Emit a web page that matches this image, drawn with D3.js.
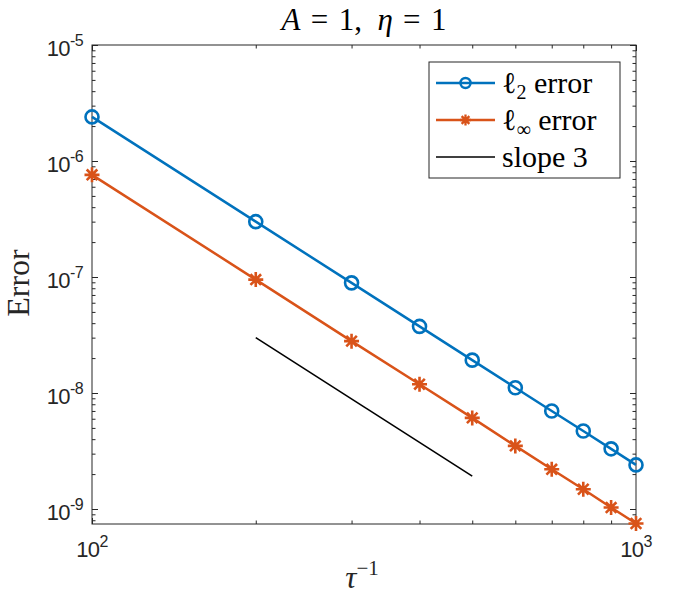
<html>
  <head>
    <script src="https://d3js.org/d3.v7.min.js"></script>
    <style>
      body { margin: 0; background: #fff; }
      text { white-space: pre; }
    </style>
  </head>

  <body>
    <div id="vis"></div>
  </body>

  <script>
    // data
    var tauInv = [100, 200, 300, 400, 500, 600, 700, 800, 900, 1000]
    var l2Err = [2.4e-6, 3.0e-7, 8.9e-8, 3.75e-8, 1.92e-8, 1.11e-8, 7.0e-9, 4.7e-9, 3.3e-9, 2.4e-9]
    var lInfErr = [7.6e-7, 9.5e-8, 2.8e-8, 1.19e-8, 6.1e-9, 3.5e-9, 2.2e-9, 1.48e-9, 1.03e-9, 7.5e-10]
    var slopeX = [200, 500]
    var slopeY = [3.0e-8, 1.92e-9]

    // tick labels (decades)
    var xMajor = [100, 1000]
    var yMajor = [1e-9, 1e-8, 1e-7, 1e-6, 1e-5]

    var blue = "#0072BD"
    var orange = "#D95319"
    var axisColor = "#262626"

    // plot box (window.top is read-only, so use other names)
    var boxL = 92, boxR = 636, boxT = 45, boxB = 524

    var svg = d3.select("#vis")
      .append("svg")
      .attr("width", 700)
      .attr("height", 600)

    var x = d3.scaleLog().domain([100, 1000]).range([boxL, boxR])
    var y = d3.scaleLog().domain([Math.pow(10, -5 - (boxB - boxT) / 116), 1e-5]).range([boxB, boxT])

    function isDecade(v) {
      var e = Math.log10(v)
      return Math.abs(e - Math.round(e)) < 1e-6
    }

    var xMinor = x.ticks().filter(function(v) { return !isDecade(v) })
    var yMinor = y.ticks().filter(function(v) { return !isDecade(v) })

    // axes: ticks point inward on all four sides
    function drawAxis(axis, tx, ty, values, size) {
      var g = svg.append("g")
        .attr("transform", "translate(" + tx + "," + ty + ")")
        .call(axis.tickValues(values).tickSize(-size).tickSizeOuter(0).tickFormat(""))
      g.select(".domain").remove()
      g.selectAll("line").attr("stroke", axisColor).attr("stroke-width", 1)
    }

    drawAxis(d3.axisBottom(x), 0, boxB, xMajor, 6)
    drawAxis(d3.axisBottom(x), 0, boxB, xMinor, 3.5)
    drawAxis(d3.axisTop(x), 0, boxT, xMajor, 6)
    drawAxis(d3.axisTop(x), 0, boxT, xMinor, 3.5)
    drawAxis(d3.axisLeft(y), boxL, 0, yMajor, 6)
    drawAxis(d3.axisLeft(y), boxL, 0, yMinor, 3.5)
    drawAxis(d3.axisRight(y), boxR, 0, yMajor, 6)
    drawAxis(d3.axisRight(y), boxR, 0, yMinor, 3.5)

    svg.append("rect")
      .attr("x", boxL)
      .attr("y", boxT)
      .attr("width", boxR - boxL)
      .attr("height", boxB - boxT)
      .attr("fill", "none")
      .attr("stroke", axisColor)
      .attr("stroke-width", 1)

    // tick labels 10^n
    var tickFont = "Liberation Sans, Arial, Helvetica, sans-serif"

    svg.selectAll(".xlab")
      .data(xMajor)
      .enter()
      .append("text")
      .attr("x", function(d) { return x(d) })
      .attr("y", boxB + 33)
      .attr("text-anchor", "middle")
      .attr("font-family", tickFont)
      .attr("font-size", 22)
      .attr("letter-spacing", -0.6)
      .attr("fill", axisColor)
      .each(function(d) {
        var t = d3.select(this)
        t.append("tspan").text("10")
        t.append("tspan").attr("font-size", 16).attr("dy", -10).text(Math.round(Math.log10(d)))
      })

    svg.selectAll(".ylab")
      .data(yMajor)
      .enter()
      .append("text")
      .attr("x", boxL - 9)
      .attr("y", function(d) { return y(d) + 11 })
      .attr("text-anchor", "end")
      .attr("font-family", tickFont)
      .attr("font-size", 22)
      .attr("letter-spacing", -0.6)
      .attr("fill", axisColor)
      .each(function(d) {
        var t = d3.select(this)
        t.append("tspan").text("10")
        t.append("tspan").attr("font-size", 16).attr("dy", -10).text(Math.round(Math.log10(d)))
      })

    // lines
    var line = d3.line()
      .x(function(d) { return x(d[0]) })
      .y(function(d) { return y(d[1]) })

    var l2Data = tauInv.map(function(t, i) { return [t, l2Err[i]] })
    var lInfData = tauInv.map(function(t, i) { return [t, lInfErr[i]] })
    var slopeData = slopeX.map(function(t, i) { return [t, slopeY[i]] })

    svg.append("path")
      .datum(l2Data)
      .attr("d", line)
      .attr("fill", "none")
      .attr("stroke", blue)
      .attr("stroke-width", 2.5)

    svg.append("path")
      .datum(lInfData)
      .attr("d", line)
      .attr("fill", "none")
      .attr("stroke", orange)
      .attr("stroke-width", 2.5)

    svg.append("path")
      .datum(slopeData)
      .attr("d", line)
      .attr("fill", "none")
      .attr("stroke", "black")
      .attr("stroke-width", 1.6)

    // markers
    function starPath(r) {
      var d = r * Math.SQRT1_2
      return "M" + (-r) + ",0L" + r + ",0M0," + (-r) + "L0," + r +
        "M" + (-d) + "," + (-d) + "L" + d + "," + d +
        "M" + (-d) + "," + d + "L" + d + "," + (-d)
    }

    svg.selectAll(".circ")
      .data(l2Data)
      .enter()
      .append("circle")
      .attr("cx", function(d) { return x(d[0]) })
      .attr("cy", function(d) { return y(d[1]) })
      .attr("r", 6.5)
      .attr("fill", "none")
      .attr("stroke", blue)
      .attr("stroke-width", 2.6)

    svg.selectAll(".star")
      .data(lInfData)
      .enter()
      .append("path")
      .attr("transform", function(d) { return "translate(" + x(d[0]) + "," + y(d[1]) + ")" })
      .attr("d", starPath(7.5))
      .attr("fill", "none")
      .attr("stroke", orange)
      .attr("stroke-width", 2.6)

    // title and axis labels
    var serif = "Liberation Serif, Times New Roman, DejaVu Serif, serif"

    var title = svg.append("text")
      .attr("x", (boxL + boxR) / 2)
      .attr("y", 30)
      .attr("text-anchor", "middle")
      .attr("font-family", serif)
      .attr("font-size", 31)
      .attr("fill", "black")
    title.append("tspan").attr("font-style", "italic").text("A")
    title.append("tspan").text("\u2004=\u20041,\u2002")
    title.append("tspan").attr("font-style", "italic").text("η")
    title.append("tspan").text("\u2004=\u20041")

    var xlabel = svg.append("text")
      .attr("x", 362)
      .attr("y", 588)
      .attr("text-anchor", "middle")
      .attr("font-family", serif)
      .attr("font-size", 31)
      .attr("fill", axisColor)
    xlabel.append("tspan").attr("font-style", "italic").text("τ")
    xlabel.append("tspan").attr("font-size", 21).attr("dy", -13).text("−1")

    svg.append("text")
      .attr("transform", "translate(29," + 283 + ") rotate(-90)")
      .attr("text-anchor", "middle")
      .attr("font-family", serif)
      .attr("font-size", 32)
      .attr("fill", axisColor)
      .text("Error")

    // legend
    var legend = svg.append("g")
    legend.append("rect")
      .attr("x", 429)
      .attr("y", 62)
      .attr("width", 191)
      .attr("height", 116)
      .attr("fill", "white")
      .attr("stroke", axisColor)
      .attr("stroke-width", 1)

    var legendItems = [
      {color: blue, width: 2.5, marker: "circle", name: "ℓ", sub: "2", rest: " error"},
      {color: orange, width: 2.5, marker: "star", name: "ℓ", sub: "∞", rest: " error"},
      {color: "black", width: 1.6, marker: null, name: "slope 3", sub: null, rest: ""}
    ]

    legendItems.forEach(function(item, i) {
      var cy = 83 + i * 37
      legend.append("line")
        .attr("x1", 436)
        .attr("x2", 495)
        .attr("y1", cy)
        .attr("y2", cy)
        .attr("stroke", item.color)
        .attr("stroke-width", item.width)
      if (item.marker == "circle") {
        legend.append("circle")
          .attr("cx", 465.5)
          .attr("cy", cy)
          .attr("r", 5)
          .attr("fill", "none")
          .attr("stroke", item.color)
          .attr("stroke-width", 2.5)
      } else if (item.marker == "star") {
        legend.append("path")
          .attr("transform", "translate(465.5," + cy + ")")
          .attr("d", starPath(5.5))
          .attr("fill", "none")
          .attr("stroke", item.color)
          .attr("stroke-width", 2.3)
      }
      var t = legend.append("text")
        .attr("x", 502)
        .attr("y", cy + 10)
        .attr("font-family", serif)
        .attr("font-size", 30)
        .attr("fill", "black")
      t.append("tspan").text(item.name)
      if (item.sub) {
        t.append("tspan").attr("font-size", 20).attr("dy", 6).text(item.sub)
        t.append("tspan").attr("dy", -6).text(item.rest)
      }
    })
  </script>
</html>
